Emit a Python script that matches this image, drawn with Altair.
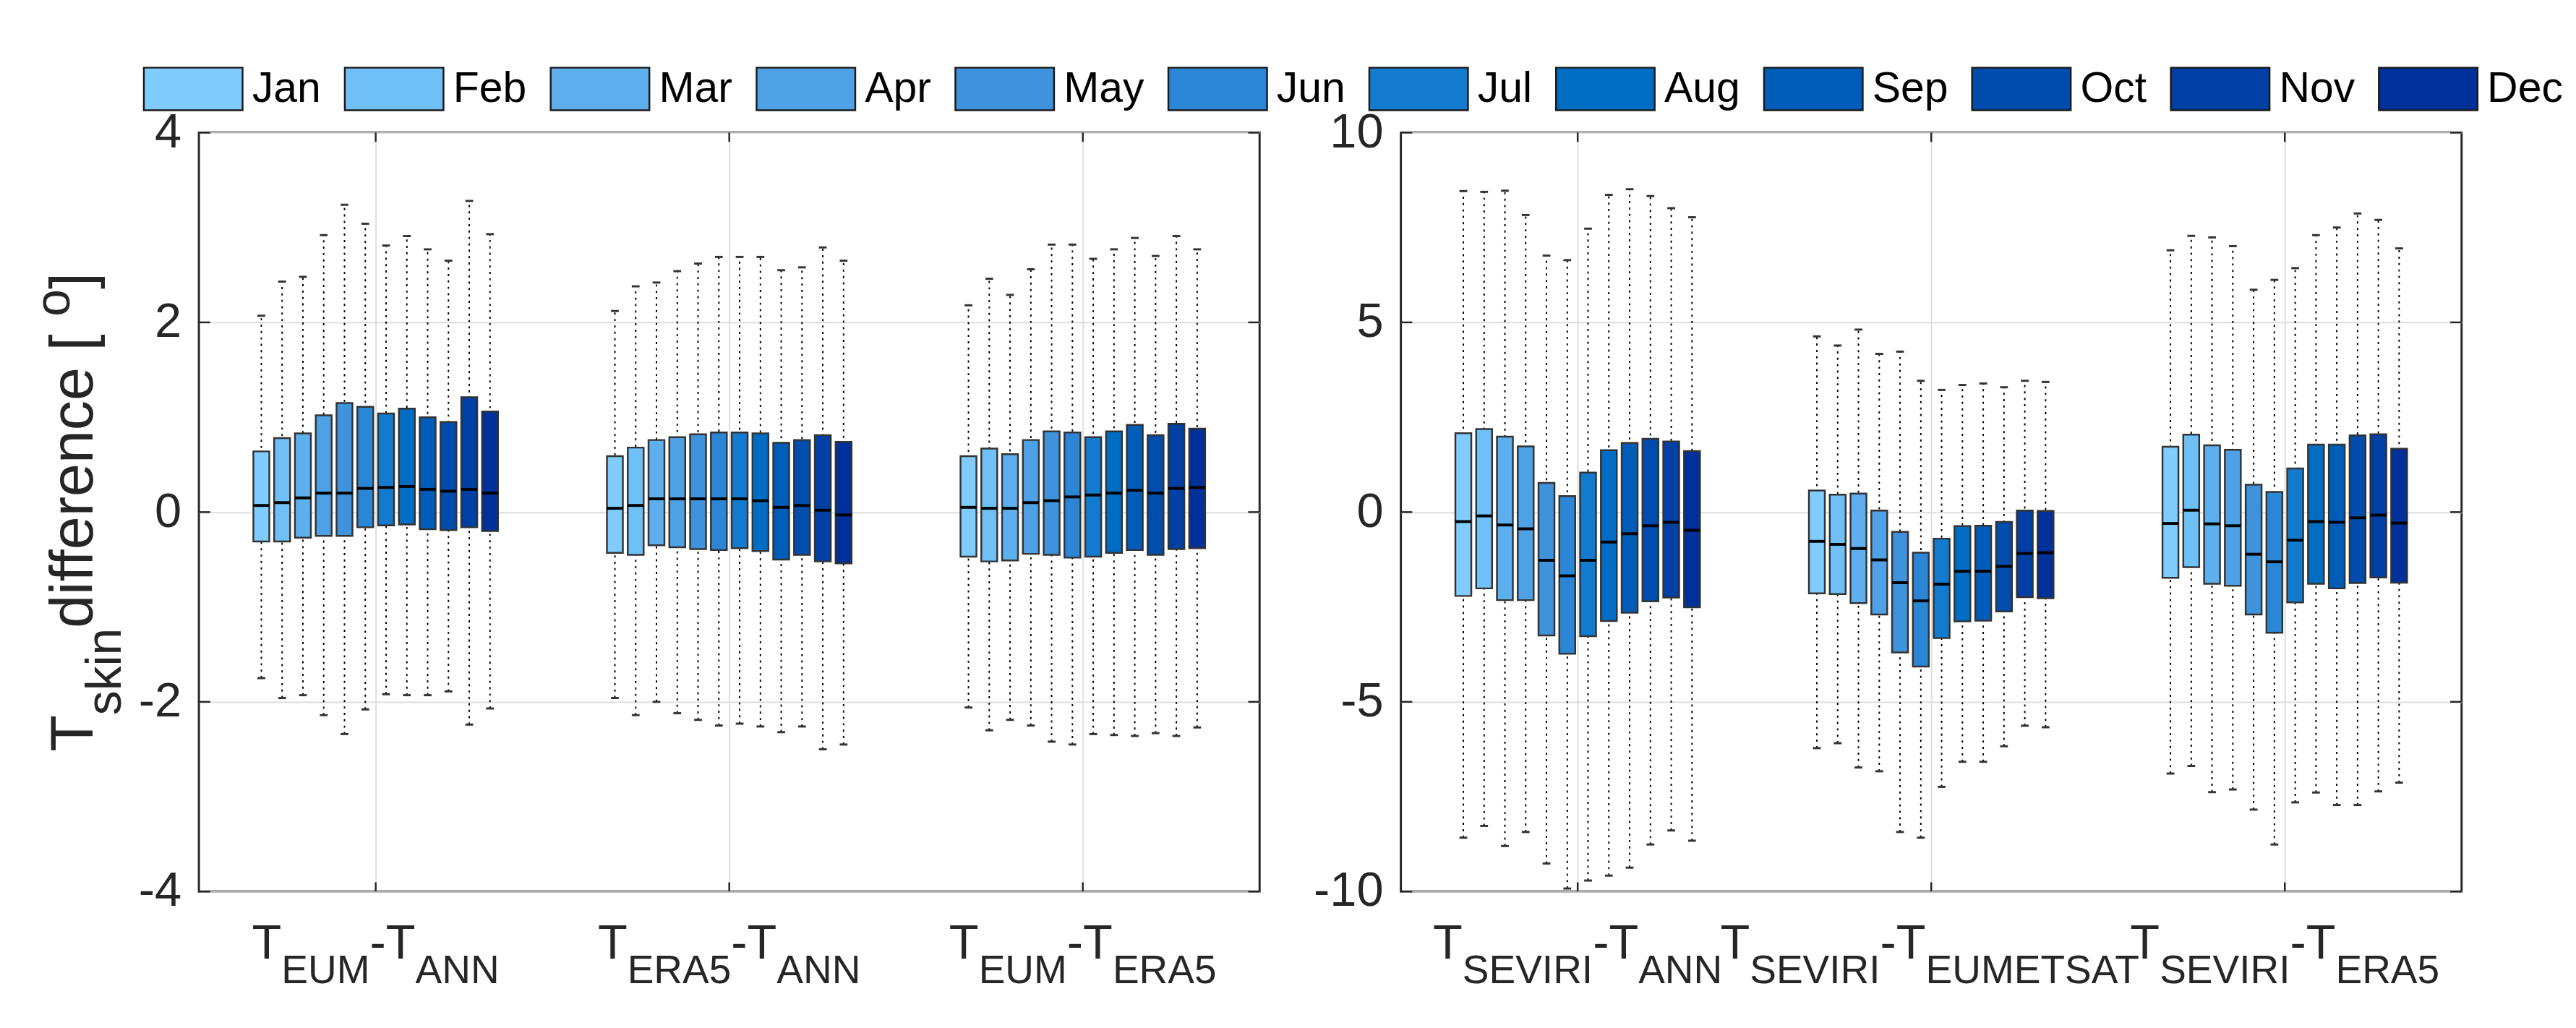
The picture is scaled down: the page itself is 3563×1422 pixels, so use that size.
import altair as alt
import pandas as pd

FONT = "Liberation Sans"
W, H = 1494, 1069
TXT = "#262626"

months = ["Jan", "Feb", "Mar", "Apr", "May", "Jun", "Jul", "Aug", "Sep", "Oct", "Nov", "Dec"]
month_colors = ["#80CCFF", "#6EC0F6", "#5EAFEE", "#4FA1E6", "#3F92DC", "#2B86D5",
                "#127BCF", "#006DC4", "#005CB9", "#004DAE", "#003FA4", "#00309A"]

left_sub = [("EUM", "ANN"), ("ERA5", "ANN"), ("EUM", "ERA5")]
right_sub = [("SEVIRI", "ANN"), ("SEVIRI", "EUMETSAT"), ("SEVIRI", "ERA5")]
left_yticks = [-4, -2, 0, 2, 4]
right_yticks = [-10, -5, 0, 5, 10]

# ---- left panel: T_EUM - T_ANN
eum_ann_hi = [2.07, 2.43, 2.48, 2.92, 3.24, 3.04, 2.81, 2.91, 2.77, 2.65, 3.28, 2.93]
eum_ann_q3 = [0.64, 0.78, 0.83, 1.02, 1.15, 1.11, 1.04, 1.09, 1.00, 0.95, 1.21, 1.06]
eum_ann_md = [0.07, 0.10, 0.15, 0.20, 0.20, 0.25, 0.26, 0.27, 0.24, 0.22, 0.24, 0.20]
eum_ann_q1 = [-0.31, -0.31, -0.27, -0.25, -0.25, -0.16, -0.14, -0.13, -0.18, -0.19, -0.16, -0.20]
eum_ann_lo = [-1.75, -1.96, -1.93, -2.14, -2.34, -2.08, -1.92, -1.93, -1.93, -1.89, -2.24, -2.07]
# T_ERA5 - T_ANN
era_ann_hi = [2.12, 2.38, 2.42, 2.54, 2.62, 2.69, 2.69, 2.69, 2.55, 2.58, 2.79, 2.65]
era_ann_q3 = [0.59, 0.68, 0.76, 0.79, 0.82, 0.84, 0.84, 0.83, 0.73, 0.76, 0.81, 0.74]
era_ann_md = [0.04, 0.07, 0.14, 0.14, 0.14, 0.14, 0.14, 0.12, 0.05, 0.07, 0.02, -0.03]
era_ann_q1 = [-0.43, -0.45, -0.35, -0.37, -0.39, -0.40, -0.38, -0.41, -0.50, -0.45, -0.52, -0.54]
era_ann_lo = [-1.96, -2.14, -2.00, -2.12, -2.19, -2.25, -2.23, -2.26, -2.32, -2.26, -2.50, -2.45]
# T_EUM - T_ERA5
eum_era_hi = [2.18, 2.46, 2.29, 2.56, 2.82, 2.82, 2.67, 2.77, 2.89, 2.70, 2.91, 2.77]
eum_era_q3 = [0.59, 0.67, 0.61, 0.76, 0.85, 0.84, 0.79, 0.85, 0.92, 0.81, 0.93, 0.88]
eum_era_md = [0.05, 0.04, 0.04, 0.10, 0.12, 0.16, 0.18, 0.20, 0.23, 0.20, 0.25, 0.26]
eum_era_q1 = [-0.47, -0.52, -0.51, -0.44, -0.45, -0.48, -0.47, -0.43, -0.40, -0.45, -0.39, -0.38]
eum_era_lo = [-2.06, -2.30, -2.19, -2.25, -2.42, -2.45, -2.34, -2.35, -2.36, -2.33, -2.36, -2.27]

# ---- right panel: T_SEVIRI - T_ANN
sev_ann_hi = [8.46, 8.44, 8.47, 7.83, 6.76, 6.64, 7.47, 8.36, 8.51, 8.33, 8.01, 7.77]
sev_ann_q3 = [2.08, 2.19, 1.99, 1.73, 0.77, 0.42, 1.04, 1.63, 1.82, 1.93, 1.86, 1.61]
sev_ann_md = [-0.25, -0.10, -0.34, -0.44, -1.27, -1.68, -1.27, -0.79, -0.57, -0.36, -0.27, -0.48]
sev_ann_q1 = [-2.21, -2.01, -2.32, -2.32, -3.25, -3.73, -3.27, -2.87, -2.65, -2.35, -2.25, -2.51]
sev_ann_lo = [-8.58, -8.27, -8.80, -8.43, -9.26, -9.92, -9.71, -9.58, -9.37, -8.76, -8.39, -8.66]
# T_SEVIRI - T_EUMETSAT
sev_eum_hi = [4.63, 4.39, 4.81, 4.17, 4.23, 3.46, 3.22, 3.35, 3.39, 3.29, 3.46, 3.43]
sev_eum_q3 = [0.57, 0.46, 0.49, 0.04, -0.52, -1.07, -0.70, -0.37, -0.36, -0.26, 0.04, 0.03]
sev_eum_md = [-0.77, -0.85, -0.96, -1.26, -1.86, -2.34, -1.90, -1.56, -1.56, -1.43, -1.09, -1.07]
sev_eum_q1 = [-2.14, -2.16, -2.40, -2.70, -3.70, -4.07, -3.32, -2.88, -2.86, -2.62, -2.24, -2.27]
sev_eum_lo = [-6.22, -6.09, -6.73, -6.83, -8.43, -8.58, -7.24, -6.58, -6.58, -6.17, -5.63, -5.67]
# T_SEVIRI - T_ERA5
sev_era_hi = [6.90, 7.28, 7.24, 7.01, 5.86, 6.12, 6.43, 7.30, 7.50, 7.87, 7.70, 6.95]
sev_era_q3 = [1.72, 2.04, 1.76, 1.64, 0.72, 0.53, 1.15, 1.78, 1.78, 2.02, 2.05, 1.67]
sev_era_md = [-0.30, 0.05, -0.31, -0.36, -1.11, -1.31, -0.74, -0.25, -0.27, -0.15, -0.08, -0.29]
sev_era_q1 = [-1.73, -1.45, -1.89, -1.94, -2.70, -3.18, -2.38, -1.89, -2.01, -1.87, -1.72, -1.86]
sev_era_lo = [-6.89, -6.69, -7.38, -7.31, -7.84, -8.76, -7.65, -7.39, -7.72, -7.72, -7.36, -7.13]

# Arial / Liberation Sans advance widths (per 1000 em)
AW = {"T": 611, "E": 667, "U": 722, "M": 833, "A": 667, "N": 722, "R": 722, "5": 556,
      "S": 667, "V": 667, "I": 278, "-": 333, "k": 500, "s": 500, "i": 222, "n": 556,
      " ": 278, "d": 556, "f": 278, "e": 556, "r": 333, "c": 500, "[": 278, "]": 278, "o": 556}


def tw(s, size):
    return sum(AW.get(c, 556) for c in s) * size / 1000.0


def frame(groups):
    rows = []
    for gi, (lo, q1, md, q3, hi) in enumerate(groups, start=1):
        for mi in range(12):
            rows.append(dict(g=gi, m=mi, month=months[mi], lo=lo[mi], q1=q1[mi],
                             med=md[mi], q3=q3[mi], hi=hi[mi]))
    return pd.DataFrame(rows)


left_df = frame([(eum_ann_lo, eum_ann_q1, eum_ann_md, eum_ann_q3, eum_ann_hi),
                 (era_ann_lo, era_ann_q1, era_ann_md, era_ann_q3, era_ann_hi),
                 (eum_era_lo, eum_era_q1, eum_era_md, eum_era_q3, eum_era_hi)])
right_df = frame([(sev_ann_lo, sev_ann_q1, sev_ann_md, sev_ann_q3, sev_ann_hi),
                  (sev_eum_lo, sev_eum_q1, sev_eum_md, sev_eum_q3, sev_eum_hi),
                  (sev_era_lo, sev_era_q1, sev_era_md, sev_era_q3, sev_era_hi)])

legend = alt.Legend(title=None, orient="none", legendX=-79, legendY=-133,
                    direction="horizontal", columns=12,
                    symbolType="M-1,-0.432H1V0.432H-1Z", symbolSize=19321,
                    symbolStrokeColor="#1a1a1a", symbolStrokeWidth=2.5, symbolOpacity=1,
                    labelFont=FONT, labelFontSize=60, labelColor="black", labelLimit=400,
                    labelOffset=12, columnPadding=28, padding=0, symbolOffset=0)

MAIN, SUB = 68, 56


def panel(df, ydom, yticks, subs, with_title):
    xs = alt.Scale(domain=[0.5, 3.5], nice=False, zero=False)
    ys = alt.Scale(domain=ydom, nice=False, zero=False)
    xax = alt.Axis(values=[1, 2, 3], labels=False, ticks=False, domain=False, grid=True,
                   title=None, gridColor="#dedede", gridWidth=2)
    yax = alt.Axis(values=yticks, labelExpr="'' + datum.value", ticks=False, domain=False,
                   grid=True, title=None, labelPadding=25, labelFont=FONT,
                   labelFontSize=MAIN, labelColor=TXT, gridColor="#dedede", gridWidth=2)
    base = alt.Chart(df).transform_calculate(
        pos="datum.g + (datum.m - 5.5) * 0.0588"
    ).transform_calculate(
        xa="datum.pos - 0.0225", xb="datum.pos + 0.0225",
        ca="datum.pos - 0.011", cb="datum.pos + 0.011"
    )
    whisk = base.mark_rule(color="black", strokeWidth=2, strokeDash=[3, 6]).encode(
        x=alt.X("pos:Q", scale=xs, axis=xax),
        y=alt.Y("lo:Q", scale=ys, axis=yax), y2="hi:Q")
    cap_lo = base.mark_rule(color="#333333", strokeWidth=3).encode(
        x=alt.X("ca:Q", scale=xs, axis=xax), x2="cb:Q",
        y=alt.Y("lo:Q", scale=ys, axis=yax))
    cap_hi = base.mark_rule(color="#333333", strokeWidth=3).encode(
        x=alt.X("ca:Q", scale=xs, axis=xax), x2="cb:Q",
        y=alt.Y("hi:Q", scale=ys, axis=yax))
    box = base.mark_bar(stroke="#333333", strokeWidth=2.5, opacity=1).encode(
        x=alt.X("xa:Q", scale=xs, axis=xax), x2="xb:Q",
        y=alt.Y("q1:Q", scale=ys, axis=yax), y2="q3:Q",
        color=alt.Color("month:N", scale=alt.Scale(domain=months, range=month_colors),
                        legend=legend))
    med = base.mark_rule(color="black", strokeWidth=4).encode(
        x=alt.X("xa:Q", scale=xs, axis=xax), x2="xb:Q",
        y=alt.Y("med:Q", scale=ys, axis=yax))

    ytk = alt.Chart(pd.DataFrame({"v": yticks}))
    xtk = alt.Chart(pd.DataFrame({"v": [1, 2, 3]}))
    tk = dict(color=TXT, strokeWidth=2.5)
    t_l = ytk.mark_rule(**tk).encode(y=alt.Y("v:Q", scale=ys, axis=yax), x=alt.value(0), x2=alt.value(16))
    t_r = ytk.mark_rule(**tk).encode(y=alt.Y("v:Q", scale=ys, axis=yax), x=alt.value(W - 16), x2=alt.value(W))
    t_b = xtk.mark_rule(**tk).encode(x=alt.X("v:Q", scale=xs, axis=xax), y=alt.value(H - 13), y2=alt.value(H))
    t_t = xtk.mark_rule(**tk).encode(x=alt.X("v:Q", scale=xs, axis=xax), y=alt.value(0), y2=alt.value(13))

    rows = []
    for gi, (a, b) in enumerate(subs, start=1):
        pieces = [("T", "main"), (a, "sub"), ("-T", "main"), (b, "sub")]
        widths = [tw(p, MAIN if k == "main" else SUB) for p, k in pieces]
        start = -sum(widths) / 2
        for (p, k), wdt in zip(pieces, widths):
            rows.append(dict(g=gi, t=p, kind=k, off=start))
            start += wdt
    lab = alt.Chart(pd.DataFrame(rows)).transform_calculate(xp=f"datum.g + datum.off / {W / 3}")
    lab_main = lab.transform_filter("datum.kind == 'main'").mark_text(
        align="left", baseline="alphabetic", fontSize=MAIN, font=FONT, color=TXT).encode(
        x=alt.X("xp:Q", scale=xs, axis=xax), y=alt.value(H + 94), text="t:N")
    lab_sub = lab.transform_filter("datum.kind == 'sub'").mark_text(
        align="left", baseline="alphabetic", fontSize=SUB, font=FONT, color=TXT).encode(
        x=alt.X("xp:Q", scale=xs, axis=xax), y=alt.value(H + 129), text="t:N")

    layers = [whisk, box, med, cap_lo, cap_hi, t_l, t_r, t_b, t_t, lab_main, lab_sub]

    if with_title:
        TM, TS = 84, 69
        tpieces = [("T", TM, 0), ("skin", TS, 40), (" difference [", TM, 0), ("o", TS, -32), ("]", TM, 0)]
        total = sum(tw(p, s) for p, s, _ in tpieces)
        ycur = H / 2 + total / 2
        for p, s, shift in tpieces:
            layers.append(
                alt.Chart(pd.DataFrame({"t": [p]})).mark_text(
                    angle=270, align="left", baseline="alphabetic", fontSize=s,
                    font=FONT, color=TXT, dy=shift).encode(
                    x=alt.value(-150), y=alt.value(ycur), text="t:N"))
            ycur -= tw(p, s)

    return alt.layer(*layers).properties(width=W, height=H)


left = panel(left_df, [-4, 4], left_yticks, left_sub, True)
right = panel(right_df, [-10, 10], right_yticks, right_sub, False)

chart = alt.HConcatChart(hconcat=[left, right], spacing=199, bounds="flush").resolve_scale(
    x="independent", y="independent", color="shared"
).properties(
    padding={"left": 33, "top": 33, "right": 10, "bottom": 10}
).configure_view(
    stroke=TXT, strokeWidth=3
).configure_axis(
    gridColor="#dedede", gridWidth=2, gridOpacity=1,
    labelFont=FONT, labelFontSize=MAIN, labelColor=TXT
)

chart.save("out.html", embed_options={"renderer": "svg", "actions": False})
